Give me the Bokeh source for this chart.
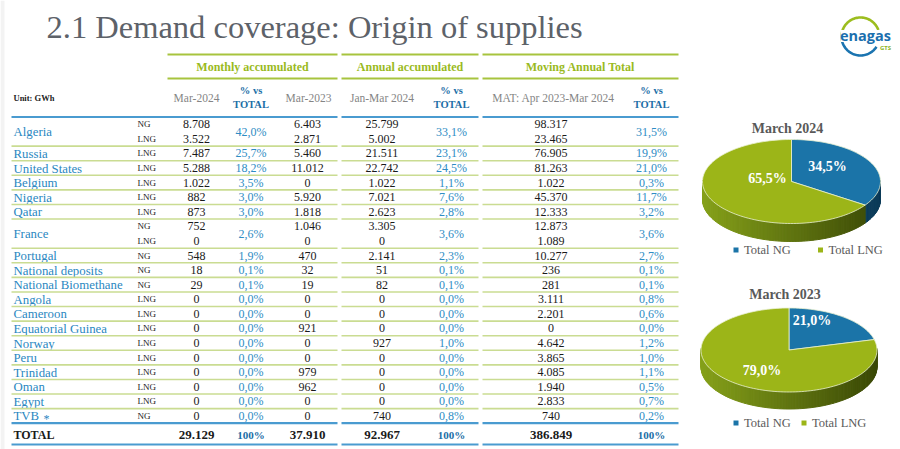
import math
from bokeh.plotting import figure
from bokeh.models import Range1d, ColumnDataSource
from bokeh.core.properties import value
from bokeh.embed import file_html
from bokeh.resources import INLINE

# ---------------- data ----------------
title = "2.1 Demand coverage: Origin of supplies"
unit_label = "Unit: GWh"
group_headers = ["Monthly accumulated", "Annual accumulated", "Moving Annual Total"]
col_headers = ["Mar-2024", "Mar-2023", "Jan-Mar 2024", "MAT: Apr 2023-Mar 2024"]
pct_header = ["% vs", "TOTAL"]

countries = ["Algeria", "Russia", "United States", "Belgium", "Nigeria", "Qatar",
             "France", "Portugal", "National deposits", "National Biomethane",
             "Angola", "Cameroon", "Equatorial Guinea", "Norway", "Peru",
             "Trinidad", "Oman", "Egypt", "TVB"]
gas_types = [["NG", "LNG"], ["LNG"], ["LNG"], ["LNG"], ["LNG"], ["LNG"],
             ["NG", "LNG"], ["NG"], ["NG"], ["NG"],
             ["LNG"], ["LNG"], ["LNG"], ["LNG"], ["LNG"],
             ["LNG"], ["LNG"], ["LNG"], ["NG"]]
mar2024 = [[8708, 3522], [7487], [5288], [1022], [882], [873],
           [752, 0], [548], [18], [29],
           [0], [0], [0], [0], [0], [0], [0], [0], [0]]
pct_mar2024 = [42.0, 25.7, 18.2, 3.5, 3.0, 3.0, 2.6, 1.9, 0.1, 0.1,
               0.0, 0.0, 0.0, 0.0, 0.0, 0.0, 0.0, 0.0, 0.0]
mar2023 = [[6403, 2871], [5460], [11012], [0], [5920], [1818],
           [1046, 0], [470], [32], [19],
           [0], [0], [921], [0], [0], [979], [962], [0], [0]]
janmar2024 = [[25799, 5002], [21511], [22742], [1022], [7021], [2623],
              [3305, 0], [2141], [51], [82],
              [0], [0], [0], [927], [0], [0], [0], [0], [740]]
pct_janmar2024 = [33.1, 23.1, 24.5, 1.1, 7.6, 2.8, 3.6, 2.3, 0.1, 0.1,
                  0.0, 0.0, 0.0, 1.0, 0.0, 0.0, 0.0, 0.0, 0.8]
mat = [[98317, 23465], [76905], [81263], [1022], [45370], [12333],
       [12873, 1089], [10277], [236], [281],
       [3111], [2201], [0], [4642], [3865], [4085], [1940], [2833], [740]]
pct_mat = [31.5, 19.9, 21.0, 0.3, 11.7, 3.2, 3.6, 2.7, 0.1, 0.1,
           0.8, 0.6, 0.0, 1.2, 1.0, 1.1, 0.5, 0.7, 0.2]
total_label = "TOTAL"
totals = [29129, 37910, 92967, 386849]
total_pct = "100%"

pie_titles = ["March 2024", "March 2023"]
pie_labels = ["Total NG", "Total LNG"]
pie_2024 = [34.5, 65.5]
pie_2023 = [21.0, 79.0]

# ---------------- styles ----------------
SERIF = value("Liberation Serif")
SANS = value("Open Sans")
C_TITLE = "#5d6269"
C_COUNTRY = "#2a87c1"
C_PCT = "#2e8cc4"
C_HDR_BLUE = "#1b6ea6"
C_HDR_GRAY = "#858585"
C_GREEN_TXT = "#9aba1e"
C_GREEN_LINE = "#a7c43e"
C_ROW_LINE = "#cadc92"
C_BLUE_LINE = "#4a9bd0"
C_VAL = "#1a1a1a"
C_NG = "#1b74a8"
C_LNG = "#9cb518"


def fmt_num(v):
    return f"{v:,}".replace(",", ".")


def fmt_pct(v):
    return f"{v:.1f}%".replace(".", ",")


W, H = 900, 449
p = figure(width=W, height=H, x_range=Range1d(0, W), y_range=Range1d(H, 0),
           output_backend="svg", toolbar_location=None, x_axis_type=None,
           y_axis_type=None, min_border=0, outline_line_color=None)
p.xgrid.visible = False
p.ygrid.visible = False
p.background_fill_color = "white"
p.border_fill_color = "white"

# faint page-edge strip
p.quad(left=[0], right=[4], top=[0], bottom=[H], fill_color="#f3f3f3", line_color=None)


def txt(xs, ys, texts, size, color, align="center", bold=False, font=SERIF, baseline="middle"):
    src = ColumnDataSource(dict(x=list(xs), y=list(ys), t=list(texts)))
    p.text(x="x", y="y", text="t", source=src, text_font=font,
           text_font_size=value(f"{size}px"), text_color=color, text_align=align,
           text_baseline=baseline, text_font_style="bold" if bold else "normal")


def hline(y, segs, color, width):
    xs = [[a, b] for a, b in segs]
    ys = [[y, y] for _ in segs]
    p.multi_line(xs=xs, ys=ys, line_color=color, line_width=width)


# ---------------- title ----------------
txt([46], [26], [title], 32.5, C_TITLE, align="left")

# ---------------- table header ----------------
SEG_ALL = [(11, 337), (341, 478), (482, 678)]
SEG_HDR = [(167, 337), (341, 478), (482, 678)]
hline(54, SEG_HDR, C_GREEN_LINE, 2)
hline(78, SEG_HDR, C_GREEN_LINE, 2)
txt([252, 409.5, 580], [66] * 3, group_headers, 12, C_GREEN_TXT, bold=True)

X_NAME, X_TYPE = 13, 137
X_C1, X_P1, X_C2, X_C3, X_P2, X_C4, X_P3 = 196, 250.5, 307, 381.5, 451, 550.5, 651
txt([X_NAME], [97], [unit_label], 8.5, "#222222", align="left", bold=True)
txt([196, 308, 381.5, 553], [97] * 4, col_headers, 11.5, C_HDR_GRAY)
txt([X_P1, X_P2, X_P3], [90] * 3, [pct_header[0]] * 3, 10.5, C_HDR_BLUE, bold=True)
txt([X_P1, X_P2, X_P3], [103.5] * 3, [pct_header[1]] * 3, 10.5, C_HDR_BLUE, bold=True)
hline(116.5, SEG_ALL, C_BLUE_LINE, 2.2)

# ---------------- table body ----------------
TOP = 116.5
UNIT = (422.7 - TOP) / 21.0

name_y, names = [], []
type_y, types = [], []
vx, vy, vt = [], [], []
px_, py_, pt = [], [], []
sep_ys = []
y0 = TOP
for i, c in enumerate(countries):
    n = len(gas_types[i])
    yc = y0 + n * UNIT / 2
    names.append(c)
    name_y.append(yc + 0.5)
    for k in range(n):
        ys = y0 + (k + 0.5) * UNIT
        type_y.append(ys)
        types.append(gas_types[i][k])
        for x, arr in ((X_C1, mar2024), (X_C2, mar2023), (X_C3, janmar2024), (X_C4, mat)):
            vx.append(x)
            vy.append(ys)
            vt.append(fmt_num(arr[i][k]))
    for x, arr in ((X_P1, pct_mar2024), (X_P2, pct_janmar2024), (X_P3, pct_mat)):
        px_.append(x)
        py_.append(yc)
        pt.append(fmt_pct(arr[i]))
    y0 += n * UNIT
    sep_ys.append(y0)

txt([X_NAME] * len(names), name_y, names, 12.8, C_COUNTRY, align="left")
txt([43], [name_y[-1] + 2.5], ["*"], 12, C_COUNTRY, align="left")
txt([X_TYPE] * len(types), type_y, types, 9, "#222222", align="left")
txt(vx, vy, vt, 12, C_VAL)
txt(px_, py_, pt, 12, C_PCT)

for y in sep_ys[:-1]:
    hline(y, SEG_ALL, C_ROW_LINE, 1.6)
hline(sep_ys[-1], SEG_ALL, C_BLUE_LINE, 2.2)

# total row
YT = 434
txt([X_NAME], [YT], [total_label], 12, C_VAL, align="left", bold=True)
txt([X_C1, X_C2, X_C3, X_C4], [YT] * 4, [fmt_num(v) for v in totals], 13, C_VAL, bold=True)
txt([X_P1, X_P2, X_P3], [YT] * 3, [total_pct] * 3, 11, C_HDR_BLUE, bold=True)
hline(444, SEG_ALL, C_BLUE_LINE, 2.2)


# ---------------- pies ----------------
def lerp_color(c1, c2, t):
    a = [int(c1[i:i + 2], 16) for i in (1, 3, 5)]
    b = [int(c2[i:i + 2], 16) for i in (1, 3, 5)]
    return "#" + "".join(f"{int(round(a[j] + (b[j] - a[j]) * t)):02x}" for j in range(3))


def draw_pie(cx, cy, rx, ry, depth, shares, title_txt, title_y, legend_y, legend_x, label_off):
    colors = [C_NG, C_LNG]
    side_dark = [("#1a5f8a", "#0c3b58"), ("#86a11a", "#3a4806")]
    total = float(sum(shares))
    ranges = []
    cum = 0.0
    for s in shares:
        a0 = 90 - 360 * cum / total
        a1 = 90 - 360 * (cum + s) / total
        ranges.append((a1, a0))
        cum += s
    # side band
    sxs, sys_, scol = [], [], []
    step = 2.0
    for idx, (lo, hi) in enumerate(ranges):
        a = lo
        while a < hi - 1e-9:
            b = min(a + step, hi)
            mid = (a + b) / 2
            if math.sin(math.radians(mid)) < 0.02:
                t1, t2 = math.radians(a), math.radians(b)
                x1, x2 = cx + rx * math.cos(t1), cx + rx * math.cos(t2)
                y1, y2 = cy - ry * math.sin(t1), cy - ry * math.sin(t2)
                sxs.append([x1, x2, x2, x1])
                sys_.append([y1, y2, y2 + depth, y1 + depth])
                f = (math.cos(math.radians(mid)) + 1) / 2
                scol.append(lerp_color(side_dark[idx][0], side_dark[idx][1], f))
            a = b
    p.patches(xs=sxs, ys=sys_, fill_color=scol, line_color=scol, line_width=1)
    # top faces
    fxs, fys = [], []
    for lo, hi in ranges:
        n = max(4, int((hi - lo) / 2))
        xs = [cx]
        ys = [cy]
        for j in range(n + 1):
            t = math.radians(hi - (hi - lo) * j / n)
            xs.append(cx + rx * math.cos(t))
            ys.append(cy - ry * math.sin(t))
        fxs.append(xs)
        fys.append(ys)
    p.patches(xs=fxs, ys=fys, fill_color=colors, line_color="#e9f0d0", line_width=0.8)
    # labels
    lt = [f"{s:.1f}%".replace(".", ",") for s in shares]
    txt([cx + d[0] for d in label_off], [cy + d[1] for d in label_off], lt, 14, "white", bold=True)
    txt([cx - 4], [title_y], [title_txt], 14, "#595959", bold=True)
    # legend
    p.rect(x=[legend_x[0], legend_x[1]], y=[legend_y, legend_y], width=5, height=5,
           fill_color=colors, line_color=None)
    txt([legend_x[0] + 8, legend_x[1] + 8], [legend_y, legend_y], pie_labels, 12.5,
        "#595959", align="left")


draw_pie(791, 181, 89, 42, 18, pie_2024, pie_titles[0], 128, 249.5, (735.5, 820),
         [(36, -15), (-24, -3)])
draw_pie(788.5, 349.5, 88, 42, 17, pie_2023, pie_titles[1], 293.5, 422.5, (735.5, 803.5),
         [(23, -29.5), (-27, 20.5)])

# ---------------- logo ----------------
lcx, lcy, lr = 860, 36, 19
garc = [math.radians(a) for a in range(20, 200, 3)]
barc = [math.radians(a) for a in range(195, 330, 3)]
p.line([lcx + lr * math.cos(a) for a in garc], [lcy - lr * math.sin(a) for a in garc],
       line_color="#9cbd1e", line_width=2.6)
p.line([lcx + lr * math.cos(a) for a in barc], [lcy - lr * math.sin(a) for a in barc],
       line_color="#1b74b0", line_width=2.6)
p.rect(x=[865], y=[35.5], width=50, height=12, fill_color="white", line_color=None)
txt([865], [35], ["enagas"], 14.5, "#1b6fae", bold=True, font=SANS)
txt([885], [47.5], ["GTS"], 6, "#8db524", bold=True, font=SANS)

open("out.html", "w").write(file_html(p, INLINE))
